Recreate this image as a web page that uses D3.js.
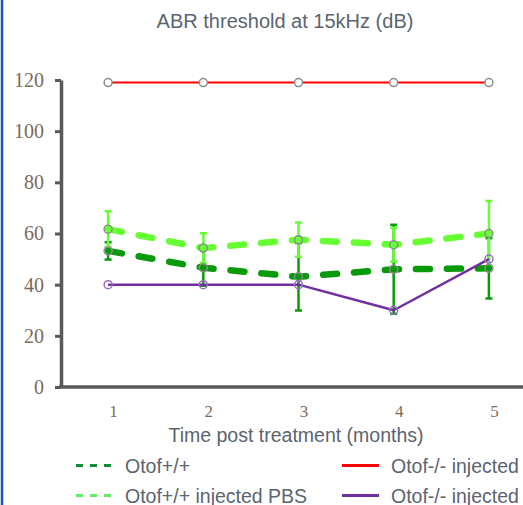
<!DOCTYPE html>
<html>
<head>
<meta charset="utf-8">
<script src="https://cdn.jsdelivr.net/npm/d3@7"></script>
<style>
  html, body { margin: 0; padding: 0; background: #fff; }
  svg { display: block; }
</style>
</head>
<body>
<svg id="chart" width="523" height="505"></svg>
<script>
// Months after treatment
const months = [1, 2, 3, 4, 5];
const yTicks = [0, 20, 40, 60, 80, 100, 120];

// Mean ABR thresholds (dB) and their error half-widths
const wtMean = [53.2, 46.6, 43.1, 46.0, 46.4];
const wtErr = [3.4, 7.0, 13.2, 17.4, 11.8];
const wtPbsMean = [61.7, 54.3, 57.6, 55.6, 60.0];
const wtPbsErr = [7.0, 5.8, 6.7, 6.6, 12.7];
const koInjMean = [119, 119, 119, 119, 119];
const koInj2Mean = [40, 40, 40, 30, 50];

const legendLabels = ["Otof+/+", "Otof+/+ injected PBS", "Otof-/- injected", "Otof-/- injected"];

const svg = d3.select("#chart");
const W = 523, H = 505;

const x = d3.scaleLinear().domain([0.5, 5.5]).range([60.5, 536.5]);
const y = d3.scaleLinear().domain([0, 120]).range([387, 80]);

const darkGreen = "#0a990a";
const lightGreen = "#66ff33";
const red = "#ff0000";
const purple = "#7030a0";
const textGrey = "#5b6470";
const sans = "Liberation Sans, Arial, sans-serif";
const serif = "Liberation Serif, DejaVu Serif, serif";

// left frame edge
svg.append("line")
  .attr("x1", 2).attr("x2", 2).attr("y1", 0).attr("y2", H)
  .attr("stroke", "#1f4fbf").attr("stroke-width", 2.5);

// title
svg.append("text")
  .attr("x", 285).attr("y", 28)
  .attr("text-anchor", "middle")
  .attr("font-family", sans)
  .attr("font-size", 20)
  .attr("fill", textGrey)
  .text("ABR threshold at 15kHz (dB)");

// y axis
const yAxis = svg.append("g")
  .attr("transform", "translate(61,0)")
  .call(d3.axisLeft(y).tickValues(yTicks).tickSize(6).tickSizeOuter(0).tickPadding(11));
yAxis.select(".domain").attr("stroke", "#595959").attr("stroke-width", 3.5);
yAxis.selectAll(".tick line").attr("stroke", "#595959").attr("stroke-width", 3);
yAxis.selectAll(".tick text")
  .attr("font-family", serif)
  .attr("font-size", 20)
  .attr("fill", "#7b6b5c");

// x axis
const xAxis = svg.append("g")
  .attr("transform", "translate(0,387)")
  .call(d3.axisBottom(x).tickValues(months).tickSize(0).tickSizeOuter(0).tickPadding(18)
    .tickFormat(d3.format("d")));
xAxis.select(".domain").attr("stroke", "#595959").attr("stroke-width", 3.5)
  .attr("d", `M${x(0.5) - 1.5},0H${W}`);
xAxis.selectAll(".tick text")
  .attr("dx", 5)
  .attr("font-family", serif)
  .attr("font-size", 17)
  .attr("fill", "#7b6b5c");

// x axis title
svg.append("text")
  .attr("x", 296).attr("y", 442)
  .attr("text-anchor", "middle")
  .attr("font-family", sans)
  .attr("font-size", 19.5)
  .attr("fill", textGrey)
  .text("Time post treatment (months)");

const plot = svg.append("g");

function errorBars(means, errs, color) {
  const g = plot.append("g");
  months.forEach((m, i) => {
    const cx = x(m), y0 = y(means[i] - errs[i]), y1 = y(means[i] + errs[i]);
    g.append("line").attr("x1", cx).attr("x2", cx).attr("y1", y0).attr("y2", y1)
      .attr("stroke", color).attr("stroke-width", 2.5);
    [y0, y1].forEach(yy => g.append("line")
      .attr("x1", cx - 3.5).attr("x2", cx + 3.5).attr("y1", yy).attr("y2", yy)
      .attr("stroke", color).attr("stroke-width", 2.5));
  });
}

function series(means, color, width, dash) {
  const line = d3.line().x((d, i) => x(months[i])).y(d => y(d));
  const p = plot.append("path").datum(means)
    .attr("d", line)
    .attr("fill", "none")
    .attr("stroke", color)
    .attr("stroke-width", width)
    .attr("stroke-linejoin", "round");
  if (dash) p.attr("stroke-dasharray", dash).attr("stroke-linecap", "round");
}

function markers(means, stroke, fill) {
  plot.append("g").selectAll("circle").data(means).join("circle")
    .attr("cx", (d, i) => x(months[i]))
    .attr("cy", d => y(d))
    .attr("r", 4)
    .attr("fill", fill)
    .attr("stroke", stroke)
    .attr("stroke-width", 1.5);
}

errorBars(wtMean, wtErr, darkGreen);
errorBars(wtPbsMean, wtPbsErr, lightGreen);
series(wtMean, darkGreen, 6.5, "14,17");
series(wtPbsMean, lightGreen, 6.5, "14,17");
series(koInjMean, red, 2);
series(koInj2Mean, purple, 2.5);
markers(wtMean, "#8c8c8c", "none");
markers(wtPbsMean, "#8c8c8c", "none");
markers(koInjMean, "#8c8c8c", "#fff");
markers(koInj2Mean, "#9b6cc4", "none");

// legend
const legend = svg.append("g");
const items = [
  { label: legendLabels[0], color: "#138a3a", dash: "7,7", x: 76, y: 465.5 },
  { label: legendLabels[1], color: "#5cf06a", dash: "7,7", x: 76, y: 495.5 },
  { label: legendLabels[2], color: red, dash: null, x: 342, y: 465.5 },
  { label: legendLabels[3], color: purple, dash: null, x: 342, y: 495.5 }
];
items.forEach(it => {
  const l = legend.append("line")
    .attr("x1", it.x).attr("x2", it.x + 37).attr("y1", it.y).attr("y2", it.y)
    .attr("stroke", it.color).attr("stroke-width", 3);
  if (it.dash) l.attr("stroke-dasharray", it.dash);
  legend.append("text")
    .attr("x", it.x + 49).attr("y", it.y + 7)
    .attr("font-family", sans)
    .attr("font-size", 19.5)
    .attr("fill", textGrey)
    .text(it.label);
});
</script>
</body>
</html>
